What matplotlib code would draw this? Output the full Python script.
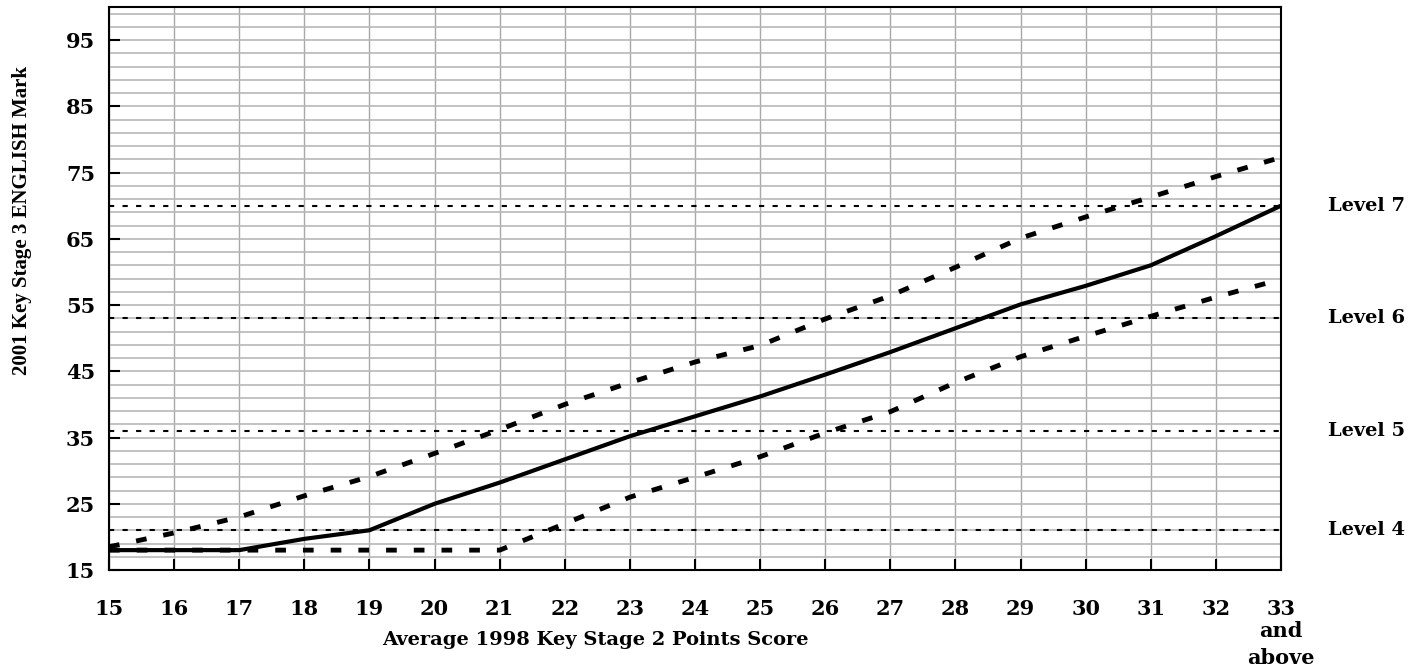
import numpy as np
import matplotlib.pyplot as plt

# KS2 average points score (x) and KS3 English marks (y)
ks2 = [15, 16, 17, 18, 19, 20, 21, 22, 23, 24, 25, 26, 27, 28, 29, 30, 31, 32, 33]
median = [18, 18, 18, 19.7, 21, 25, 28.2, 31.7, 35.2, 38.2, 41.2, 44.5, 47.9, 51.5, 55.1, 57.9, 61, 65.4, 70]
upper = [18.5, 20.6, 23, 26.2, 29.1, 32.6, 36.2, 40, 43.3, 46.4, 48.9, 52.9, 56.4, 60.7, 65.1, 68.3, 71.3, 74.4, 77.3]
lower = [18, 18, 18, 18, 18, 18, 18, 22, 26, 29, 32.1, 35.7, 38.9, 43.3, 47.2, 50.3, 53.3, 56.2, 58.9]

levels = ["Level 4", "Level 5", "Level 6", "Level 7"]
level_marks = [21, 36, 53, 70]

xticks = list(range(15, 34))
yticks = list(range(15, 100, 10))

FONT = "DejaVu Serif"

fig = plt.figure(figsize=(14.26, 6.70), dpi=100)
ax = fig.add_axes([109/1426, 1-570/670, (1281-109)/1426, (570-7)/670])

# grid
for x in xticks:
    ax.axvline(x, color="#a8a8a8", lw=1, zorder=0)
for y in range(17, 100, 2):
    ax.axhline(y, color="#b8b8b8", lw=1.2, zorder=0)

# level boundaries
for m in level_marks:
    ax.plot([15, 33], [m, m], color="black", lw=1.5, linestyle=(0, (2.5, 4)), zorder=2)

ax.plot(ks2, upper, color="black", lw=3.5, linestyle=(0, (2.2, 3.5)), zorder=3)
ax.plot(ks2, lower, color="black", lw=3.5, linestyle=(0, (2.2, 3.5)), zorder=3)
ax.plot(ks2, median, color="black", lw=3, zorder=4)

ax.set_xlim(15, 33)
ax.set_ylim(15, 100)
ax.set_xticks(xticks)
ax.set_xticklabels([str(x) for x in xticks])
ax.set_yticks(yticks)
ax.tick_params(axis="x", direction="in", length=8, width=1.5, pad=21, labelsize=15)
ax.tick_params(axis="y", direction="in", length=8, width=1.5, pad=10, labelsize=15)
for lab in ax.get_xticklabels() + ax.get_yticklabels():
    lab.set_fontfamily(FONT)
    lab.set_fontweight("bold")
for s in ax.spines.values():
    s.set_color("black")
    s.set_linewidth(1.5)

ax.text(33, -0.09, "and", transform=ax.get_xaxis_transform(), ha="center", va="top",
        fontsize=15, family=FONT, weight="bold", clip_on=False)
ax.text(33, -0.138, "above", transform=ax.get_xaxis_transform(), ha="center", va="top",
        fontsize=15, family=FONT, weight="bold", clip_on=False)

fig.text(595/1426, 1-640/670, "Average 1998 Key Stage 2 Points Score", ha="center", va="center",
         fontsize=14, family=FONT, weight="bold")
fig.text(22/1426, 1-220/670, "2001 Key Stage 3 ENGLISH Mark", rotation=90, ha="center", va="center",
         fontsize=15, family="Liberation Serif", weight="bold")

for name, m in zip(levels, level_marks):
    ax.text(1.04, m, name, transform=ax.get_yaxis_transform(), ha="left", va="center",
            fontsize=14, family=FONT, weight="bold", clip_on=False)

plt.savefig("out.png", dpi=100)
